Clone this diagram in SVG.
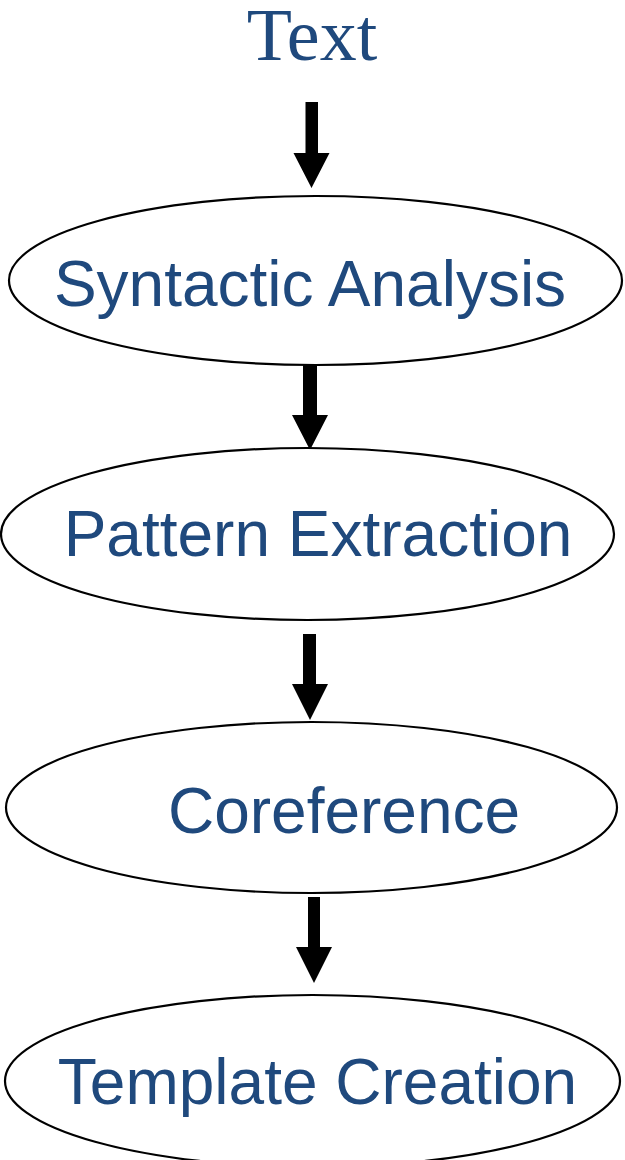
<svg xmlns="http://www.w3.org/2000/svg" width="625" height="1160" viewBox="0 0 625 1160">
<style>
.node ellipse{fill:#fff;stroke:#000;stroke-width:2.2}
.lbl{font-family:"Liberation Sans",Arial,sans-serif;font-size:64px;fill:#1F497D;text-anchor:middle}
.title{font-family:"Liberation Serif","Times New Roman",serif;font-size:74px;fill:#1F497D;text-anchor:middle}
.arrow{fill:#000;stroke:none}
</style>
<rect width="625" height="1160" fill="#fff"/>
<g id="title"><text class="title" x="312" y="60">Text</text></g>
<g id="connectors">
<polygon class="arrow" points="305.5,102 318,102 318,153 329.5,153 311.5,188 293.5,153 305.5,153"/>
<polygon class="arrow" points="303,365 317,365 317,415 328,415 310,450 292,415 303,415"/>
<polygon class="arrow" points="303,634 316,634 316,684 328,684 310,720 292,684 303,684"/>
<polygon class="arrow" points="308,897 320,897 320,947 332,947 314,983 296,947 308,947"/>
</g>
<g id="syntactic" class="node"><ellipse cx="315.5" cy="280.5" rx="306.5" ry="84.5"/><text class="lbl" x="310" y="306">Syntactic Analysis</text></g>
<g id="pattern" class="node"><ellipse cx="307.5" cy="534" rx="306.5" ry="86"/><text class="lbl" x="318" y="556">Pattern Extraction</text></g>
<g id="coreference" class="node"><ellipse cx="311.5" cy="807.5" rx="305.5" ry="85.5"/><text class="lbl" x="344" y="833">Coreference</text></g>
<g id="template" class="node"><ellipse cx="312.5" cy="1081" rx="307.5" ry="86"/><text class="lbl" x="317.5" y="1104">Template Creation</text></g>
</svg>
